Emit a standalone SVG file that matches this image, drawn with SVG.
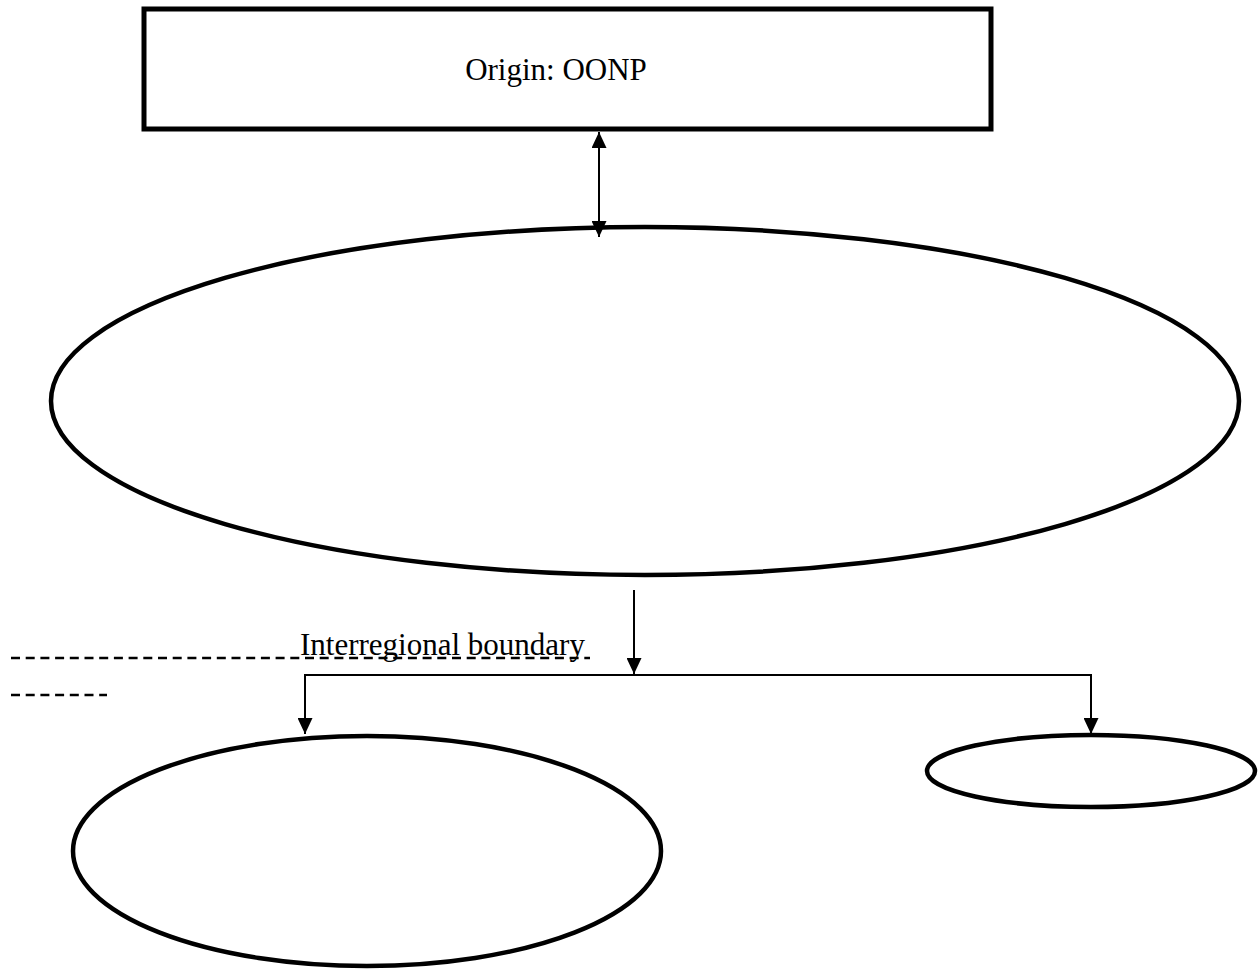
<svg xmlns="http://www.w3.org/2000/svg" width="1260" height="969" viewBox="0 0 1260 969">
  <style>
    .box { fill: #ffffff; stroke: #000000; stroke-width: 5; }
    .oval { fill: none; stroke: #000000; stroke-width: 4.5; }
    .wire { fill: none; stroke: #000000; stroke-width: 2; }
    .dash { fill: none; stroke: #000000; stroke-width: 2.5; stroke-dasharray: 9 5.7; }
    .label { font-family: "Liberation Serif", "Times New Roman", serif; font-size: 31px; fill: #000000; }
  </style>
  <defs>
    <marker id="head" viewBox="0 0 16 15" refX="16" refY="7.5" markerWidth="16" markerHeight="15" markerUnits="userSpaceOnUse" orient="auto-start-reverse">
      <path d="M0,0 L16,7.5 L0,15 Z" fill="#000000"/>
    </marker>
  </defs>

  <rect width="1260" height="969" fill="#ffffff"/>

  <!-- origin box -->
  <g id="origin">
    <rect class="box" x="144" y="9" width="847" height="120"/>
    <text class="label" x="556" y="80" text-anchor="middle">Origin: OONP</text>
  </g>

  <!-- main region -->
  <g id="region-main">
    <ellipse class="oval" cx="645" cy="401" rx="594" ry="174"/>
  </g>

  <!-- lower regions -->
  <g id="region-left">
    <ellipse class="oval" cx="367" cy="851" rx="294" ry="115"/>
  </g>
  <g id="region-right">
    <ellipse class="oval" cx="1091" cy="771" rx="164" ry="36"/>
  </g>

  <!-- boundary marking -->
  <g id="boundary">
    <line class="dash" x1="11" y1="658" x2="590" y2="658"/>
    <line class="dash" x1="11" y1="695" x2="107" y2="695"/>
    <text class="label" x="300" y="655">Interregional boundary</text>
  </g>

  <!-- connectors -->
  <g id="connectors">
    <line class="wire" x1="599" y1="132" x2="599" y2="237" marker-start="url(#head)" marker-end="url(#head)"/>
    <line class="wire" x1="634" y1="590" x2="634" y2="674" marker-end="url(#head)"/>
    <polyline class="wire" points="305,734 305,675 1091,675 1091,734" marker-start="url(#head)" marker-end="url(#head)"/>
  </g>
</svg>
